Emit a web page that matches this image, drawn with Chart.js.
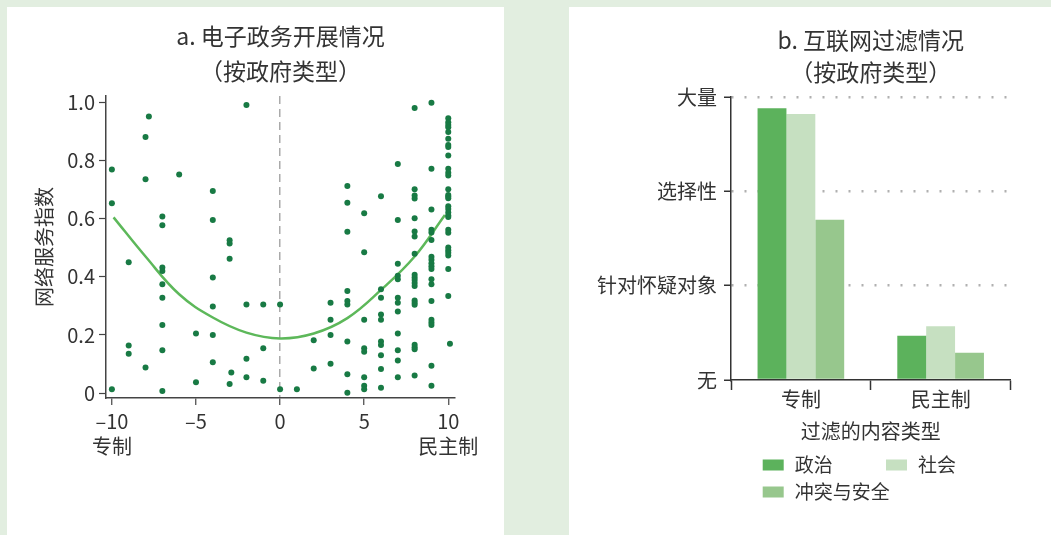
<!DOCTYPE html>
<html lang="zh-CN">
<head>
  <meta charset="UTF-8">
  <title>电子政务与互联网过滤</title>
  <script src="https://cdn.jsdelivr.net/npm/chart.js"></script>
  <style>
    html, body { margin: 0; padding: 0; }
    body { width: 1051px; height: 535px; overflow: hidden; background: #e2eee0; position: relative; }
    .panel { position: absolute; top: 7px; height: 528px; background: #fff; }
    #panelA { left: 7px; width: 497px; }
    #panelB { left: 569px; width: 482px; }
  </style>
</head>
<body>
  <div class="panel" id="panelA"><canvas id="chartA" width="497" height="528"></canvas></div>
  <div class="panel" id="panelB"><canvas id="chartB" width="482" height="528"></canvas></div>

  <script>
    // ---- a. 电子政务开展情况：每一列 x 值及其对应的网络服务指数
    const columnX = [-10, -9, -8, -7.8, -7, -6, -5, -4, -3, -2.9, -2, -1, 0, 1, 2, 3, 4, 5, 6, 7, 8, 9, 10, 10.1];
    const columnY = [
      [0.77, 0.654, 0.013],
      [0.45, 0.164, 0.135],
      [0.882, 0.736, 0.088],
      [0.952],
      [0.608, 0.578, 0.432, 0.42, 0.375, 0.328, 0.234, 0.147, 0.007],
      [0.753],
      [0.205, 0.037],
      [0.696, 0.596, 0.398, 0.298, 0.2, 0.106],
      [0.526, 0.515, 0.462, 0.031],
      [0.071],
      [0.992, 0.305, 0.118, 0.054],
      [0.305, 0.154, 0.042],
      [0.305, 0.013],
      [0.013],
      [0.182, 0.084],
      [0.311, 0.252, 0.2, 0.101],
      [0.713, 0.655, 0.555, 0.351, 0.317, 0.305, 0.177, 0.065, 0.001],
      [0.619, 0.485, 0.252, 0.154, 0.142, 0.054, 0.025, 0.013],
      [0.678, 0.357, 0.328, 0.27, 0.252, 0.177, 0.165, 0.13, 0.083, 0.018],
      [0.789, 0.596, 0.445, 0.404, 0.392, 0.328, 0.311, 0.281, 0.205, 0.147, 0.112, 0.054],
      [0.982, 0.702, 0.68, 0.67, 0.602, 0.556, 0.539, 0.48, 0.407, 0.398, 0.389, 0.379, 0.369, 0.319, 0.311, 0.304, 0.166, 0.158, 0.151, 0.06],
      [1.0, 0.772, 0.632, 0.562, 0.553, 0.527, 0.469, 0.459, 0.447, 0.437, 0.427, 0.392, 0.375, 0.317, 0.252, 0.243, 0.234, 0.094, 0.025],
      [0.946, 0.933, 0.923, 0.915, 0.899, 0.876, 0.854, 0.847, 0.818, 0.772, 0.759, 0.749, 0.702, 0.682, 0.677, 0.671, 0.643, 0.634, 0.622, 0.611, 0.606, 0.562, 0.552, 0.501, 0.492, 0.483, 0.474, 0.427, 0.334],
      [0.17]
    ];
    // 拟合曲线
    const curveX = [-9.9, -8, -6, -4, -2, 0, 2, 4, 6, 8, 9.8];
    const curveY = [0.605, 0.47, 0.34, 0.26, 0.208, 0.188, 0.205, 0.258, 0.355, 0.47, 0.613];
    const xTickValues = [-10, -5, 0, 5, 10];
    const yTickValues = [0, 0.2, 0.4, 0.6, 0.8, 1.0];
    const xEndLabels = ['专制', '民主制'];

    // ---- b. 互联网过滤情况
    const groups = ['专制', '民主制'];
    const filterLevels = ['无', '针对怀疑对象', '选择性', '大量'];
    const political = [2.88, 0.47];
    const social = [2.82, 0.57];
    const conflict = [1.70, 0.29];

    const FONT = '"Noto Sans CJK SC", "Noto Sans", sans-serif';
    const INK = '#333';
    Chart.defaults.font.family = FONT;
    Chart.defaults.color = INK;

    const points = [];
    columnX.forEach((x, i) => columnY[i].forEach(y => points.push({ x, y })));
    const curve = curveX.map((x, i) => ({ x, y: curveY[i] }));

    new Chart(document.getElementById('chartA'), {
      type: 'scatter',
      data: {
        datasets: [
          { data: points, backgroundColor: '#187a44', borderWidth: 0, pointRadius: 3, order: 1 },
          { data: curve, showLine: true, borderColor: '#5db85a', borderWidth: 2.5, pointRadius: 0, tension: 0.4, fill: false, order: 2 }
        ]
      },
      options: {
        responsive: false,
        animation: false,
        layout: { padding: { left: 0, right: 49, top: 0, bottom: 76 } },
        plugins: {
          legend: { display: false },
          tooltip: { enabled: false },
          title: {
            display: true,
            fullSize: false,
            text: ['a. 电子政务开展情况', '（按政府类型）'],
            color: INK,
            font: { size: 23, weight: 'normal', lineHeight: '35px' },
            padding: { top: 12, bottom: 7 }
          }
        },
        scales: {
          x: {
            type: 'linear',
            min: -10.35,
            max: 10.4,
            afterFit: s => { s.height = 61; },
            afterBuildTicks: s => { s.ticks = xTickValues.map(v => ({ value: v })); },
            border: { color: '#444', width: 1.5, dash: [8, 5] },
            grid: {
              color: c => (c.tick && c.tick.value === 0) ? '#aaa' : 'rgba(0,0,0,0)',
              lineWidth: 1.5,
              tickColor: '#444',
              tickWidth: 1.2,
              tickLength: 7,
              tickBorderDash: []
            },
            ticks: {
              padding: 4,
              font: { size: 20, lineHeight: '25px' },
              color: INK,
              maxRotation: 0,
              callback: v => {
                const t = v < 0 ? '–' + Math.abs(v) : String(v);
                if (v === xTickValues[0]) return [t, xEndLabels[0]];
                if (v === xTickValues[xTickValues.length - 1]) return [t, xEndLabels[1]];
                return t;
              }
            }
          },
          y: {
            min: -0.0172,
            max: 1.023,
            afterFit: s => { s.width = 99; },
            afterBuildTicks: s => { s.ticks = yTickValues.map(v => ({ value: v })); },
            border: { color: '#444', width: 1.5 },
            grid: { drawOnChartArea: false, tickColor: '#444', tickWidth: 1.2, tickLength: 7 },
            ticks: {
              padding: 4,
              font: { size: 20 },
              color: INK,
              callback: v => v === 0 ? '0' : v.toFixed(1)
            },
            title: {
              display: true,
              text: '网络服务指数',
              color: INK,
              font: { size: 20 },
              padding: { top: 25, bottom: 0 }
            }
          }
        }
      }
    });

    // 图例：两列网格，画在 x 轴标题下方
    const gridLegend = {
      id: 'gridLegend',
      afterDraw(chart) {
        const { ctx, chartArea } = chart;
        const cols = [31.7, 155];
        const rows = [85, 112];
        ctx.save();
        ctx.font = '19px ' + FONT;
        ctx.textBaseline = 'middle';
        ctx.textAlign = 'left';
        chart.data.datasets.forEach((ds, i) => {
          const x = chartArea.left + cols[i % 2];
          const y = chartArea.bottom + rows[Math.floor(i / 2)];
          ctx.fillStyle = ds.backgroundColor;
          ctx.fillRect(x, y - 5.5, 21, 11);
          ctx.fillStyle = INK;
          ctx.fillText(ds.label, x + 32, y);
        });
        ctx.restore();
      }
    };

    new Chart(document.getElementById('chartB'), {
      type: 'bar',
      data: {
        labels: groups,
        datasets: [
          { label: '政治', data: political, backgroundColor: '#5cb25c' },
          { label: '社会', data: social, backgroundColor: '#c6e0c1' },
          { label: '冲突与安全', data: conflict, backgroundColor: '#97c78d' }
        ]
      },
      options: {
        responsive: false,
        animation: false,
        layout: { padding: { left: 0, right: 40.5, top: 0, bottom: 85 } },
        datasets: { bar: { categoryPercentage: 0.62, barPercentage: 1.0 } },
        plugins: {
          legend: { display: false },
          tooltip: { enabled: false },
          title: {
            display: true,
            fullSize: false,
            text: ['b. 互联网过滤情况', '（按政府类型）'],
            color: INK,
            font: { size: 23, weight: 'normal', lineHeight: '32px' },
            padding: { top: 17, bottom: 9 }
          }
        },
        scales: {
          x: {
            afterFit: s => { s.height = 70; },
            border: { color: '#333', width: 1.5 },
            grid: { offset: true, drawOnChartArea: false, tickColor: '#333', tickWidth: 1.5, tickLength: 10 },
            ticks: { padding: -3, font: { size: 20 }, color: INK },
            title: {
              display: true,
              text: '过滤的内容类型',
              color: INK,
              font: { size: 20 },
              padding: { top: 8, bottom: 6.3 }
            }
          },
          y: {
            min: 0,
            max: 3,
            afterFit: s => { s.width = 162; },
            border: { color: '#333', width: 1.5, dash: [2, 11] },
            grid: {
              color: c => (c.tick && c.tick.value === 0) ? 'rgba(0,0,0,0)' : '#b0b0b0',
              lineWidth: 2.5,
              tickColor: '#333',
              tickWidth: 1.5,
              tickLength: 7,
              tickBorderDash: []
            },
            ticks: {
              stepSize: 1,
              padding: 7,
              font: { size: 20 },
              color: INK,
              callback: v => filterLevels[v]
            }
          }
        }
      },
      plugins: [gridLegend]
    });
  </script>
</body>
</html>
